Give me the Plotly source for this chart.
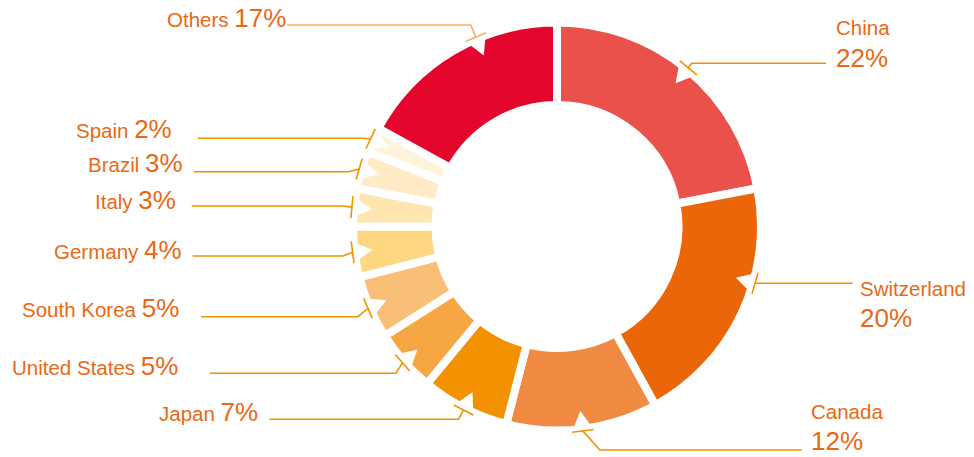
import math
import plotly.graph_objects as go

# ---------------- data ----------------
countries = ["China", "Switzerland", "Canada", "Japan", "United States",
             "South Korea", "Germany", "Italy", "Brazil", "Spain", "Others"]
shares = [22, 20, 12, 7, 5, 5, 4, 3, 3, 2, 17]
slice_colors = ["#E9514A", "#EB6509", "#F08A42", "#F39200", "#F7A644",
                "#F9BF78", "#FFD780", "#FFE5B0", "#FFEBC5", "#FFF3DB", "#E3052C"]

# ---------------- layout settings ----------------
W, H = 974, 457
CX, CY = 557.0, 226.5          # donut centre (px)
R_OUT, R_IN = 200.0, 125.5     # visible radii (px)
GAP = 8                        # white gap between slices
R = R_OUT + GAP / 2
HOLE = (R_IN - GAP / 2) / R

TEXT_COLOR = "#EA6814"
LINE_COLOR = "#F39200"
NAME_SIZE = 20.5
PCT_SIZE = 26
FONT = "Liberation Sans, Arial, sans-serif"

R_TEE = 206.0
TEE_HALF = 11.0

# label placement (layout only)
left_labels = {  # text right edge, baseline, line y, line outer x, elbow dx
    "Others":        (287.0, 27.0, 25.0, 287.0, -5.0),
    "Spain":         (173.3, 137.7, 138.3, 197.7, -9.7),
    "Brazil":        (184.3, 172.3, 171.7, 194.0, -10.8),
    "Italy":         (176.7, 209.0, 206.0, 191.7, -9.0),
    "Germany":       (183.3, 259.0, 256.0, 192.7, -9.6),
    "South Korea":   (180.0, 317.3, 316.7, 201.0, -10.0),
    "United States": (179.3, 375.0, 373.3, 210.0, -6.6),
    "Japan":         (259.3, 420.7, 419.3, 269.3, -5.0),
}
right_labels = {  # text left x, name baseline, pct baseline, line y, line outer x, elbow dx
    "China":       (835.0, 35.0, 66.7, 63.3, 826.0, 3.3),
    "Switzerland": (859.3, 295.7, 327.3, None, 852.7, 0.0),
    "Canada":      (810.0, 418.3, 450.0, 450.0, 801.7, 17.0),
}
anchor_offset = {"Switzerland": -9.2, "Others": 7.4}
line_color_override = {"Others": "#F8B25E"}


def px(x):
    return x / W


def py(y):
    return 1 - y / H


def polar(angle_deg, r):
    a = math.radians(angle_deg)
    return CX + r * math.sin(a), CY - r * math.cos(a)


fig = go.Figure()
fig.add_trace(go.Pie(
    labels=countries, values=shares, sort=False, direction="clockwise",
    rotation=0, hole=HOLE, textinfo="none", hoverinfo="label+percent",
    marker=dict(colors=slice_colors, line=dict(color="white", width=GAP)),
    domain=dict(x=[px(CX - R), px(CX + R)], y=[py(CY + R), py(CY - R)]),
    showlegend=False,
))

total = float(sum(shares))
shapes = []
annotations = []
cum = 0.0
for name, val in zip(countries, shares):
    mid = (cum + val / 2) / total * 360.0
    cum += val
    ang = mid + anchor_offset.get(name, 0.0)
    lc = line_color_override.get(name, LINE_COLOR)
    tx, ty = polar(ang, R_TEE)
    a = math.radians(ang)
    ux, uy = math.cos(a), math.sin(a)   # tangential unit vector
    # white notch (arrow) cut into the slice
    ax_, ay_ = polar(ang, 186.0)
    bx, by = polar(ang, 201.5)
    c1 = (bx + 8.5 * ux, by + 8.5 * uy)
    c2 = (bx - 8.5 * ux, by - 8.5 * uy)
    shapes.append(dict(type="path", xref="paper", yref="paper",
                       path=f"M{px(ax_)},{py(ay_)} L{px(c1[0])},{py(c1[1])} "
                            f"L{px(c2[0])},{py(c2[1])} Z",
                       fillcolor="white", line=dict(width=0)))
    # tee bar
    shapes.append(dict(type="line", xref="paper", yref="paper",
                       x0=px(tx - TEE_HALF * ux), y0=py(ty - TEE_HALF * uy),
                       x1=px(tx + TEE_HALF * ux), y1=py(ty + TEE_HALF * uy),
                       line=dict(color=lc, width=1.6)))
    pct = f"{val}%"
    if name in left_labels:
        rx, base, ly, lx, edx = left_labels[name]
        shapes.append(dict(type="path", xref="paper", yref="paper",
                           path=f"M{px(lx)},{py(ly)} L{px(tx + edx)},{py(ly)} L{px(tx)},{py(ty)}",
                           line=dict(color=lc, width=1.6)))
        annotations.append(dict(
            x=px(rx), y=py(base - 9.0), xref="paper", yref="paper",
            xanchor="right", yanchor="middle", showarrow=False, borderpad=0,
            text=f"{name} <span style='font-size:{PCT_SIZE}px'>{pct}</span>",
            font=dict(family=FONT, size=NAME_SIZE, color=TEXT_COLOR)))
    else:
        lxs, nb, pb, ly, lx, edx = right_labels[name]
        if ly is None:
            ly = ty
        shapes.append(dict(type="path", xref="paper", yref="paper",
                           path=f"M{px(lx)},{py(ly)} L{px(tx + edx)},{py(ly)} L{px(tx)},{py(ty)}",
                           line=dict(color=lc, width=1.6)))
        annotations.append(dict(
            x=px(lxs), y=py(nb - 7.1), xref="paper", yref="paper",
            xanchor="left", yanchor="middle", showarrow=False, borderpad=0,
            text=name, font=dict(family=FONT, size=NAME_SIZE, color=TEXT_COLOR)))
        annotations.append(dict(
            x=px(lxs), y=py(pb - 9.0), xref="paper", yref="paper",
            xanchor="left", yanchor="middle", showarrow=False, borderpad=0,
            text=pct, font=dict(family=FONT, size=PCT_SIZE, color=TEXT_COLOR)))

fig.update_layout(
    width=W, height=H, margin=dict(l=0, r=0, t=0, b=0),
    paper_bgcolor="white", plot_bgcolor="white",
    shapes=shapes, annotations=annotations,
)
fig.write_html("out.html",
               config={"displayModeBar": False},
               post_script="document.body.style.margin='0';"
                           "document.body.style.overflow='hidden';")
